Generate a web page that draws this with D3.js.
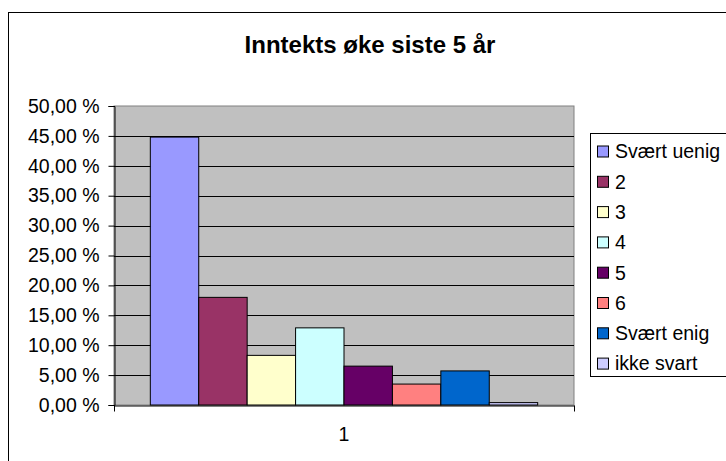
<!DOCTYPE html>
<html>
<head>
<meta charset="utf-8">
<script src="https://cdn.jsdelivr.net/npm/d3@7"></script>
<style>
body{margin:0;background:#fff;}
svg{display:block;font-family:"Liberation Sans",Arial,sans-serif;}
</style>
</head>
<body>
<div id="chart"></div>
<script>
// data
var category=["1"]
var seriesNames=["Svært uenig","2","3","4","5","6","Svært enig","ikke svart"]
var seriesValues=[0.448,0.180,0.083,0.129,0.065,0.035,0.057,0.004]
var yTicks=[0,0.05,0.10,0.15,0.20,0.25,0.30,0.35,0.40,0.45,0.50]
var palette=["#9999FF","#993366","#FFFFCC","#CCFFFF","#660066","#FF8080","#0066CC","#CCCCFF"]

var svgWidth=726
var svgHeight=461

var plot={left:114, right:574, top:106, bottom:405}

var svg=d3.select("#chart")
    .append("svg")
    .attr("width", svgWidth)
    .attr("height", svgHeight)

// chart border
svg.append("rect")
    .attr("x", 8.5).attr("y", 12.5)
    .attr("width", 800).attr("height", 500)
    .attr("fill", "#fff")
    .attr("stroke", "#000")

svg.append("text")
    .attr("x", 370).attr("y", 53)
    .attr("text-anchor", "middle")
    .attr("font-size", 24)
    .attr("font-weight", "bold")
    .text("Inntekts øke siste 5 år")

var xScale=d3.scaleBand()
    .domain(category)
    .range([plot.left, plot.right])

var xInner=d3.scaleBand()
    .domain(seriesNames)
    .range([0, xScale.bandwidth()])
    .paddingInner(0)
    .paddingOuter(0.75)

var yScale=d3.scaleLinear()
    .domain([0, 0.5])
    .range([plot.bottom, plot.top])

// plot area
svg.append("rect")
    .attr("x", plot.left).attr("y", plot.top)
    .attr("width", plot.right-plot.left)
    .attr("height", plot.bottom-plot.top)
    .attr("fill", "#C0C0C0")
    .attr("stroke", "#808080")

svg.append("g")
    .selectAll("line")
    .data(yTicks.filter(d=>d>0 && d<0.5))
    .enter()
    .append("line")
    .attr("x1", plot.left).attr("x2", plot.right)
    .attr("y1", d=>Math.round(yScale(d))+0.5)
    .attr("y2", d=>Math.round(yScale(d))+0.5)
    .attr("stroke", "#000")

var fmt=d=>(d*100).toFixed(2).replace(".", ",")+" %"

var leftAxis=d3.axisLeft(yScale)
    .tickValues(yTicks)
    .tickFormat(fmt)
    .tickSize(6)
    .tickPadding(9)

var yAxis=svg.append("g")
    .attr("transform", `translate(${plot.left+0.5},0)`)
    .call(leftAxis)
yAxis.select(".domain").attr("stroke", "#000")
yAxis.selectAll(".tick line").attr("stroke", "#000")
yAxis.selectAll("text")
    .attr("font-size", 19.5)
    .attr("font-family", "Liberation Sans, Arial, sans-serif")
    .attr("fill", "#000")

// bars
svg.append("g")
    .selectAll("rect")
    .data(seriesValues)
    .enter()
    .append("rect")
    .attr("x", (d,i)=>xScale(category[0])+xInner(seriesNames[i]))
    .attr("y", d=>yScale(d))
    .attr("width", xInner.bandwidth())
    .attr("height", d=>yScale(0)-yScale(d))
    .attr("fill", (d,i)=>palette[i])
    .attr("stroke", "#000")
    .attr("stroke-width", 1)

// x axis
var bottomAxis=d3.axisBottom(xScale)
    .tickSize(0)
    .tickPadding(22)
var xAxis=svg.append("g")
    .attr("transform", `translate(0,${plot.bottom+0.5})`)
    .call(bottomAxis)
xAxis.select(".domain").attr("stroke", "#000")
xAxis.selectAll("text")
    .attr("font-size", 19.5)
    .attr("font-family", "Liberation Sans, Arial, sans-serif")
    .attr("fill", "#000")
xAxis.selectAll(".edge")
    .data([plot.left, plot.right])
    .enter()
    .append("line")
    .attr("x1", d=>d+0.5).attr("x2", d=>d+0.5)
    .attr("y1", 0).attr("y2", 6)
    .attr("stroke", "#000")

// legend
var legend=svg.append("g")
legend.append("rect")
    .attr("x", 590.5).attr("y", 133.5)
    .attr("width", 160).attr("height", 243)
    .attr("fill", "#fff")
    .attr("stroke", "#000")

var items=legend.selectAll(".item")
    .data(seriesNames)
    .enter()
    .append("g")
    .attr("transform", (d,i)=>`translate(597,${151.5+i*30.3})`)
items.append("rect")
    .attr("x", 0.5).attr("y", -5.5)
    .attr("width", 11).attr("height", 11)
    .attr("fill", (d,i)=>palette[i])
    .attr("stroke", "#000")
items.append("text")
    .attr("x", 18).attr("y", 0)
    .attr("dy", "0.35em")
    .attr("font-size", 19.5)
    .text(d=>d)
</script>
</body>
</html>
